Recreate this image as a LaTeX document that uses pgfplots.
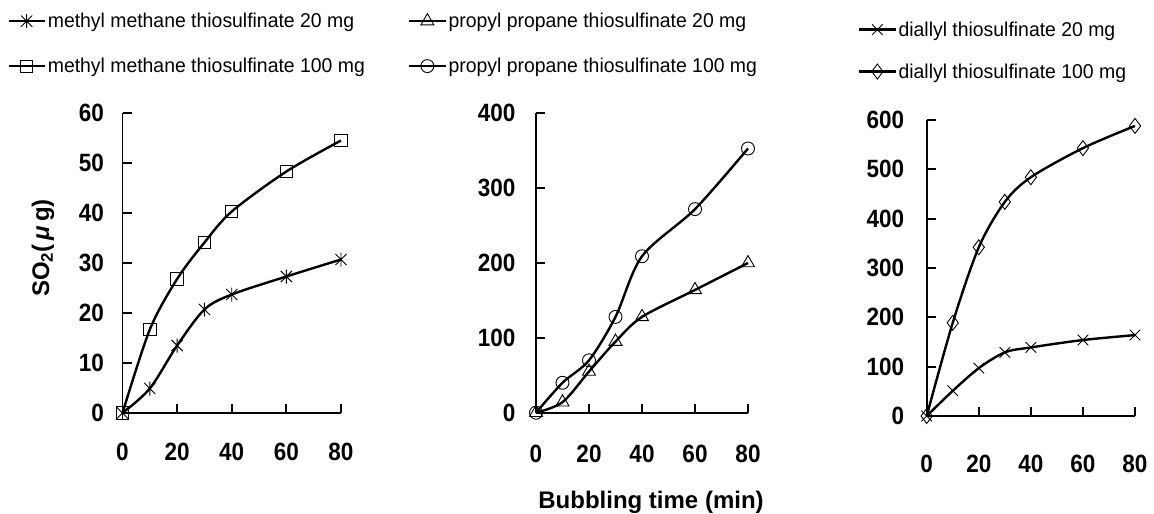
\documentclass[border=0pt]{standalone}
\usepackage{fontspec}
\usepackage{pgfplots}
\pgfplotsset{compat=1.18}
\setmainfont{Liberation Sans}
\newfontfamily\tickfont{Liberation Sans}[FakeStretch=0.9]
\newfontfamily\legfont{Liberation Sans}[FakeStretch=0.97]
\newcommand\legsize{\legfont\fontsize{20bp}{22bp}\selectfont}
\newcommand\ticksize{\tickfont\bfseries\fontsize{25bp}{25bp}\selectfont}
\pgfdeclareplotmark{exstar}{%
  \pgfpathmoveto{\pgfqpoint{-0.8\pgfplotmarksize}{-0.8\pgfplotmarksize}}%
  \pgfpathlineto{\pgfqpoint{0.8\pgfplotmarksize}{0.8\pgfplotmarksize}}%
  \pgfpathmoveto{\pgfqpoint{-0.8\pgfplotmarksize}{0.8\pgfplotmarksize}}%
  \pgfpathlineto{\pgfqpoint{0.8\pgfplotmarksize}{-0.8\pgfplotmarksize}}%
  \pgfpathmoveto{\pgfqpoint{0pt}{-\pgfplotmarksize}}%
  \pgfpathlineto{\pgfqpoint{0pt}{\pgfplotmarksize}}%
  \pgfusepathqstroke}
\pgfplotsset{
 panel/.style={
  scale only axis, axis x line=bottom, axis y line=left,
  axis line style={-, line width=1.8bp},
  xmin=0, xmax=80, ymin=0, clip=false, anchor=south west,
  xtick={0,20,40,60,80},
  tick align=inside, major tick length=9bp, tick style={line width=1.8bp, black},
  tick label style={font=\ticksize},
  /pgf/number format/assume math mode=true,
  legend style={draw=none, fill=none, anchor=north west, inner sep=0pt,
    font=\legsize, row sep=25bp, nodes={inner sep=2bp}},
  legend cell align=left,
  legend image code/.code={\draw[mark repeat=2, mark phase=2] plot coordinates {(0bp,0bp) (18bp,0bp) (36bp,0bp)};},
  every axis plot/.append style={black, line width=2.4bp, smooth, mark options={line width=0.9bp, solid, fill=none}},
 }
}
\begin{document}
\begin{tikzpicture}
\path[use as bounding box] (0,0) rectangle (1154bp,514bp);
% Panel 1
\begin{axis}[panel, at={(122.5bp,101bp)}, width=218.5bp, height=300bp, ymax=60, ytick={0,10,...,60},
 xticklabel style={yshift=-27bp}, yticklabel style={xshift=-15bp},
 legend style={at={(-0.5275,1.34)}}]
\addplot[mark=exstar, mark size=7bp] coordinates {(0,0) (10,4.9) (20,13.5) (30,20.7) (40,23.7) (60,27.3) (80,30.7)};
\addlegendentry{methyl methane thiosulfinate 20 mg}
\addplot[mark=square, mark size=6.2bp] coordinates {(0,0) (10,16.7) (20,26.8) (30,34.1) (40,40.3) (60,48.3) (80,54.5)};
\addlegendentry{methyl methane thiosulfinate 100 mg}
\end{axis}
% Panel 2
\begin{axis}[panel, at={(536bp,101.3bp)}, width=212bp, height=299.4bp, ymax=400, ytick={0,100,...,400},
 xticklabel style={yshift=-29bp}, yticklabel style={xshift=-17bp},
 legend style={at={(-0.604,1.342)}}]
\addplot[mark=triangle, mark size=7.5bp] coordinates {(0,0) (10,14) (20,55) (30,95) (40,128) (60,164) (80,200)};
\addlegendentry{propyl propane thiosulfinate 20 mg}
\addplot[mark=o, mark size=6.5bp] coordinates {(0,0) (10,40) (20,70) (30,128) (40,209) (60,272) (80,353)};
\addlegendentry{propyl propane thiosulfinate 100 mg}
\end{axis}
% Panel 3
\begin{axis}[panel, at={(926.7bp,98bp)}, width=208.3bp, height=296bp, ymax=600, ytick={0,100,...,600},
 xticklabel style={yshift=-36bp}, yticklabel style={xshift=-19bp},
 legend style={at={(-0.33,1.34)}, row sep=22bp}]
\addplot[mark=x, mark size=7.5bp] coordinates {(0,0) (10,51) (20,97) (30,129) (40,139) (60,154) (80,164)};
\addlegendentry{diallyl thiosulfinate 20 mg}
\addplot[mark=diamond, mark size=7.5bp] coordinates {(0,0) (10,189) (20,342) (30,434) (40,484) (60,543) (80,588)};
\addlegendentry{diallyl thiosulfinate 100 mg}
\end{axis}
\node[rotate=90, font=\bfseries\fontsize{24bp}{24bp}\selectfont] at (43bp,266bp) {SO\textsubscript{2}(\hspace{4bp}\textit{μ}\hspace{4bp}g)};
\node[anchor=base, font=\bfseries\fontsize{24bp}{24bp}\selectfont] at (651bp,6bp) {Bubbling time (min)};
\end{tikzpicture}
\end{document}
